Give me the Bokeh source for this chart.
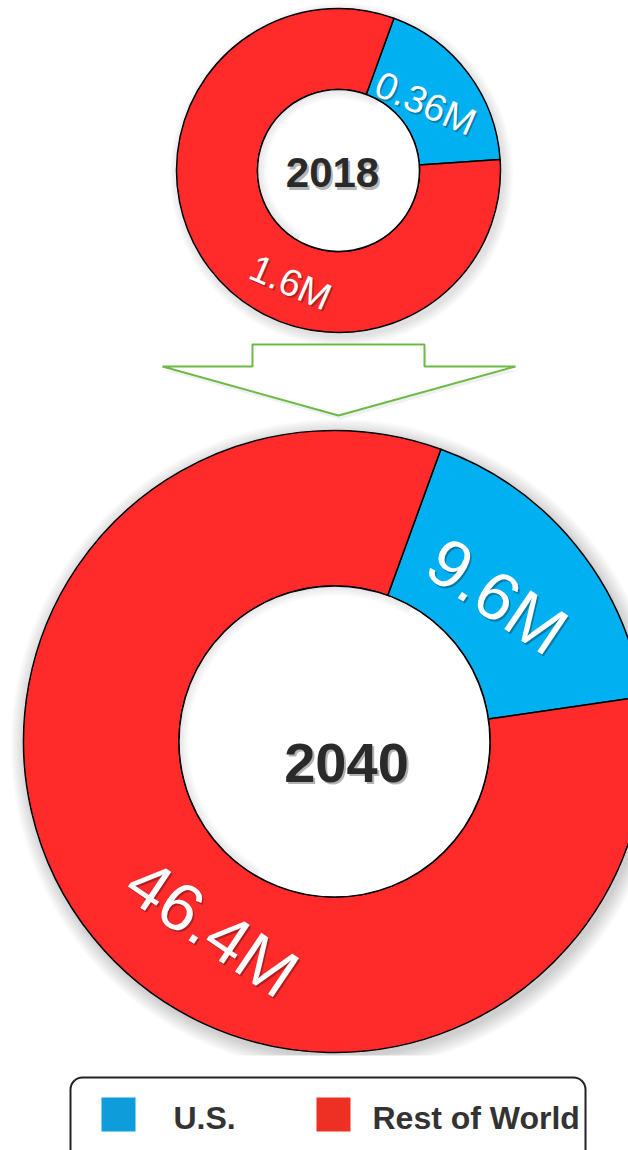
import math
from bokeh.plotting import figure
from bokeh.models import Range1d, ColumnDataSource, BoxAnnotation
from bokeh.core.properties import value
from bokeh.embed import file_html
from bokeh.resources import INLINE

# ---------------- data ----------------
years = ["2018", "2040"]
categories = ["U.S.", "Rest of World"]
us_values = [0.36, 9.6]
row_values = [1.6, 46.4]
us_labels = ["0.36M", "9.6M"]
row_labels = ["1.6M", "46.4M"]
slice_colors = ["#00b0f0", "#ff2b2b"]
legend_colors = ["#0e9cdb", "#ee3024"]

# ---------------- layout ----------------
W, H = 628, 1150
def Y(py):
    return H - py

centers = [(338, 170), (334, 741)]
outer_r = [162, 311]
inner_frac = 0.5
start_deg = 20.0  # first slice starts 20 deg clockwise from 12 o'clock
label_off = [[(0.537, 0.414), (-0.296, -0.691)],
             [(0.524, 0.469), (-0.392, -0.598)]]
label_rot = [-23.5, -34.0]
label_size = ["38px", "68px"]
year_off = [(-6, -2), (12, -21)]
year_size = ["42px", "56px"]

p = figure(width=W, height=H, x_range=Range1d(0, W), y_range=Range1d(0, H),
           x_axis_type=None, y_axis_type=None, toolbar_location=None,
           output_backend="svg", min_border=0, outline_line_color=None,
           background_fill_color="white", border_fill_color="white")
p.grid.visible = False

# soft drop shadows under the donuts
for (cx, cy), R, blur in zip(centers, outer_r, [10, 16]):
    for k in range(blur):
        p.circle(x=[cx + 3], y=[Y(cy) - 4], radius=R + blur - k,
                 fill_color="black", fill_alpha=0.012, line_color=None)
# clip the lower shadow like the original image edge
p.quad(left=[0], right=[W], bottom=[Y(1075)], top=[Y(1055)], fill_color="white", line_color=None)

for i in range(2):
    cx, cy = centers[i]
    R = outer_r[i]
    total = us_values[i] + row_values[i]
    a0 = math.radians(90 - start_deg)
    a1 = a0 - 2 * math.pi * us_values[i] / total
    a2 = a0 - 2 * math.pi
    src = ColumnDataSource(dict(
        x=[cx, cx], y=[Y(cy), Y(cy)],
        start=[a0, a1], end=[a1, a2],
        color=slice_colors, cat=categories))
    p.annular_wedge(x="x", y="y", inner_radius=R * inner_frac, outer_radius=R,
                    start_angle="start", end_angle="end", direction="clock",
                    fill_color="color", line_color="black", line_width=1.5,
                    source=src)
    # white hole
    p.circle(x=[cx], y=[Y(cy)], radius=R * inner_frac, fill_color="white",
             line_color=None)
    # inner hole soft inset shade
    for k in range(6):
        p.annular_wedge(x=[cx], y=[Y(cy)], inner_radius=R * inner_frac - 2 - k * 1.5,
                        outer_radius=R * inner_frac - 0.8,
                        start_angle=math.radians(60), end_angle=math.radians(240),
                        fill_color="black", fill_alpha=0.015, line_color=None)
    p.circle(x=[cx], y=[Y(cy)], radius=R * inner_frac, fill_color=None,
             line_color="black", line_width=1.5)

    # slice labels (white with a soft shadow)
    labs = [us_labels[i], row_labels[i]]
    lx = [cx + R * o[0] for o in label_off[i]]
    ly = [Y(cy) + R * o[1] for o in label_off[i]]
    ang = math.radians(label_rot[i])
    p.text(x=[v + 1.5 for v in lx], y=[v - 2 for v in ly], text=labs, angle=ang,
           text_font=value("Liberation Sans"), text_font_size=label_size[i],
           text_color="black", text_alpha=0.3, text_align="center",
           text_baseline="middle")
    p.text(x=lx, y=ly, text=labs, angle=ang,
           text_font=value("Liberation Sans"), text_font_size=label_size[i],
           text_color="white", text_align="center", text_baseline="middle")

    # year label
    yx = cx + year_off[i][0]
    yy = Y(cy + (-year_off[i][1]))
    p.text(x=[yx + 2], y=[yy - 2.5], text=[years[i]], text_font=value("Liberation Sans"),
           text_font_style="bold", text_font_size=year_size[i], text_color="black",
           text_alpha=0.3, text_align="center", text_baseline="middle")
    p.text(x=[yx], y=[yy], text=[years[i]], text_font=value("Liberation Sans"),
           text_font_style="bold", text_font_size=year_size[i], text_color="#2a2a2a",
           text_align="center", text_baseline="middle")

# arrow between the two donuts
ax = [252, 424, 424, 515, 338, 162, 252]
ay = [344, 344, 366, 366, 415, 366, 366]
p.patch(x=[v + 2 for v in ax], y=[Y(v) - 4 for v in ay], fill_color="black",
        fill_alpha=0.06, line_color=None)
p.patch(x=ax, y=[Y(v) for v in ay], fill_color="white", line_color="#6cb945",
        line_width=2)

# legend
box = BoxAnnotation(left=70, right=585, top=Y(1077), bottom=Y(1170),
                    fill_color="white", fill_alpha=1.0, line_color="#222222",
                    line_alpha=1.0, line_width=2, border_radius=12, level="underlay")
p.add_layout(box)
p.rect(x=[118, 333], y=[Y(1114), Y(1114)], width=34, height=34,
       fill_color=legend_colors, line_color=None)
p.text(x=[173, 372], y=[Y(1117), Y(1117)], text=categories,
       text_font=value("Liberation Sans"), text_font_style="bold",
       text_font_size="32px", text_color="#333333", text_align="left",
       text_baseline="middle")

open("out.html", "w").write(file_html(p, INLINE))
